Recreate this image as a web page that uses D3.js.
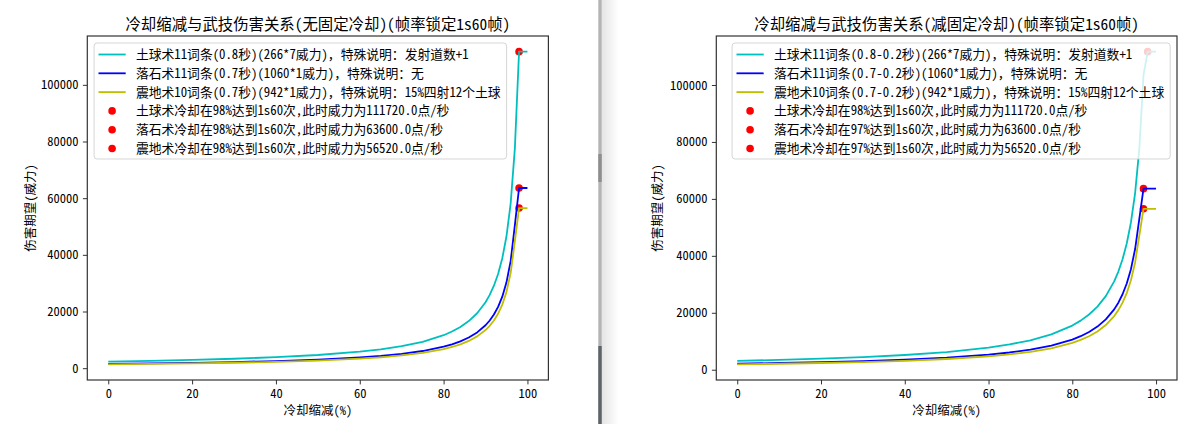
<!DOCTYPE html>
<html>
<head>
<meta charset="utf-8">
<script src="https://cdn.jsdelivr.net/npm/d3@7/dist/d3.min.js"></script>
<style>
body { margin: 0; background: #fff; }
text { font-family: "Noto Sans Mono CJK SC", "Noto Sans CJK SC", sans-serif; fill: #000; }
</style>
</head>
<body>
<script>
// 冷却缩减 (%) sample points
const cdr = [0, 10, 20, 30, 40, 50, 60, 65, 70, 75, 80, 82, 84, 86, 88, 90, 91, 92, 93, 94, 95, 96, 97, 98, 99, 100];

// left chart: 无固定冷却
const earthA = [2328, 2586, 2909, 3325, 3879, 4655, 5819, 6650, 7758, 9310, 11638, 12931, 14547, 16625, 19396, 23275, 25861, 29094, 33250, 38792, 46550, 58188, 77583, 111720, 111720, 111720];
const rockA = [1514, 1683, 1893, 2163, 2524, 3029, 3786, 4327, 5048, 6057, 7571, 8413, 9464, 10816, 12619, 15143, 16825, 18929, 21633, 25238, 30286, 37857, 50476, 63600, 63600, 63600];
const quakeA = [1346, 1495, 1682, 1922, 2243, 2691, 3364, 3845, 4486, 5383, 6729, 7476, 8411, 9612, 11214, 13457, 14952, 16821, 19224, 22429, 26914, 33643, 44857, 56520, 56520, 56520];

// right chart: 减固定冷却
const earthB = [3103, 3448, 3879, 4433, 5172, 6207, 7758, 8867, 10344, 12413, 15517, 17241, 19396, 22167, 25861, 31033, 34481, 38792, 44333, 51722, 62067, 77583, 103444, 111720, 111720, 111720];
const rockB = [2120, 2356, 2650, 3029, 3533, 4240, 5300, 6057, 7067, 8480, 10600, 11778, 13250, 15143, 17667, 21200, 23556, 26500, 30286, 35333, 42400, 53000, 63600, 63600, 63600, 63600];
const quakeB = [1884, 2093, 2355, 2691, 3140, 3768, 4710, 5383, 6280, 7536, 9420, 10467, 11775, 13457, 15700, 18840, 20933, 23550, 26914, 31400, 37680, 47100, 56520, 56520, 56520, 56520];

// points where 1s60 is reached
const capXA = [98, 98, 98];
const capXB = [98, 97, 97];
const capY = [111720, 63600, 56520];

const xTicks = [0, 20, 40, 60, 80, 100];
const yTicks = [0, 20000, 40000, 60000, 80000, 100000];

const namesA = [
    '土球术11词条(0.8秒)(266*7威力)，特殊说明：发射道数+1',
    '落石术11词条(0.7秒)(1060*1威力)，特殊说明：无',
    '震地术10词条(0.7秒)(942*1威力)，特殊说明：15%四射12个土球',
    '土球术冷却在98%达到1s60次,此时威力为111720.0点/秒',
    '落石术冷却在98%达到1s60次,此时威力为63600.0点/秒',
    '震地术冷却在98%达到1s60次,此时威力为56520.0点/秒'
];
const namesB = [
    '土球术11词条(0.8-0.2秒)(266*7威力)，特殊说明：发射道数+1',
    '落石术11词条(0.7-0.2秒)(1060*1威力)，特殊说明：无',
    '震地术10词条(0.7-0.2秒)(942*1威力)，特殊说明：15%四射12个土球',
    '土球术冷却在98%达到1s60次,此时威力为111720.0点/秒',
    '落石术冷却在97%达到1s60次,此时威力为63600.0点/秒',
    '震地术冷却在97%达到1s60次,此时威力为56520.0点/秒'
];

const colors = ['#00bfbf', '#0000ff', '#bfbf00'];
const dotColor = '#ff0000';

const width = 1198;
const height = 424;
const plotTop = 36;
const plotBottom = 380;
const fontSize = 12.5;
const legendFont = 12.8;
const fontFamily = '"Noto Sans Mono CJK SC", "Noto Sans CJK SC", sans-serif';

const svg = d3.select('body')
    .append('svg')
    .attr('width', width)
    .attr('height', height);

// window separator between the two screenshots
svg.append('defs').append('linearGradient')
    .attr('id', 'shade')
    .selectAll('stop')
    .data([['0%', '#e4e4e4'], ['100%', '#ffffff']])
    .enter()
    .append('stop')
    .attr('offset', (d) => d[0])
    .attr('stop-color', (d) => d[1]);
svg.append('rect').attr('x', 601.5).attr('y', 0).attr('width', 17).attr('height', height).attr('fill', 'url(#shade)');
svg.append('rect').attr('x', 598.3).attr('y', 0).attr('width', 3.4).attr('height', height).attr('fill', '#b4b4b4');
svg.append('rect').attr('x', 598.3).attr('y', 154).attr('width', 3.4).attr('height', 28).attr('fill', '#8e8e8e');
svg.append('rect').attr('x', 598.3).attr('y', 346).attr('width', 3.4).attr('height', 78).attr('fill', '#5c6468');

function drawChart(opt) {
    const all = opt.series.flat();
    const yPad = (d3.max(all) - d3.min(all)) * 0.05;
    const xPad = (d3.max(cdr) - d3.min(cdr)) * 0.05;

    const x = d3.scaleLinear()
        .domain([d3.min(cdr) - xPad, d3.max(cdr) + xPad])
        .range([opt.left, opt.right]);
    const y = d3.scaleLinear()
        .domain([d3.min(all) - yPad, d3.max(all) + yPad])
        .range([plotBottom, plotTop]);

    const g = svg.append('g');

    // scatter sits under the lines, like matplotlib zorder
    g.selectAll('circle.cap')
        .data(opt.capX)
        .enter()
        .append('circle')
        .attr('class', 'cap')
        .attr('cx', (d) => x(d))
        .attr('cy', (d, i) => y(capY[i]))
        .attr('r', 3.8)
        .attr('fill', dotColor);

    const line = d3.line()
        .x((d, i) => x(cdr[i]))
        .y((d) => y(d));

    g.selectAll('path.series')
        .data(opt.series)
        .enter()
        .append('path')
        .attr('class', 'series')
        .attr('d', line)
        .attr('fill', 'none')
        .attr('stroke', (d, i) => colors[i])
        .attr('stroke-width', 1.8)
        .attr('stroke-linejoin', 'round');

    // axes
    const xAxis = g.append('g')
        .attr('transform', 'translate(0,' + plotBottom + ')')
        .call(d3.axisBottom(x).tickValues(xTicks).tickSize(4.4).tickPadding(4.4));
    const yAxis = g.append('g')
        .attr('transform', 'translate(' + opt.left + ',0)')
        .call(d3.axisLeft(y).tickValues(yTicks).tickFormat(d3.format('d')).tickSize(4.4).tickPadding(4.4));
    [xAxis, yAxis].forEach((a) => {
        a.select('.domain').remove();
        a.selectAll('line').attr('stroke', '#333').attr('stroke-width', 1);
        a.selectAll('text')
            .style('font-family', fontFamily)
            .style('font-size', fontSize + 'px')
            .attr('fill', '#000');
    });

    g.append('rect')
        .attr('x', opt.left)
        .attr('y', plotTop)
        .attr('width', opt.right - opt.left)
        .attr('height', plotBottom - plotTop)
        .attr('fill', 'none')
        .attr('stroke', '#333')
        .attr('stroke-width', 1.2);

    const cx = (opt.left + opt.right) / 2;
    g.append('text')
        .attr('x', cx)
        .attr('y', 29.5)
        .attr('text-anchor', 'middle')
        .style('font-size', '15.4px')
        .text(opt.title);
    g.append('text')
        .attr('x', cx)
        .attr('y', 415)
        .attr('text-anchor', 'middle')
        .style('font-size', fontSize + 'px')
        .text('冷却缩减(%)');
    g.append('text')
        .attr('transform', 'translate(' + opt.yLabelX + ',' + (plotTop + plotBottom) / 2 + ') rotate(-90)')
        .attr('text-anchor', 'middle')
        .style('font-size', fontSize + 'px')
        .text('伤害期望(威力)');

    // legend
    const leg = g.append('g');
    const rowY = (i) => 11.5 + i * 18.8;
    const texts = leg.selectAll('text')
        .data(opt.names)
        .enter()
        .append('text')
        .attr('x', 41.8)
        .attr('y', (d, i) => rowY(i))
        .attr('dy', '0.35em')
        .style('font-size', legendFont + 'px')
        .text((d) => d);
    let maxW = 0;
    texts.each(function () {
        maxW = Math.max(maxW, this.getComputedTextLength());
    });
    const boxW = 41.8 + maxW + 6;
    leg.insert('rect', ':first-child')
        .attr('x', 0)
        .attr('y', 0)
        .attr('width', boxW)
        .attr('height', 116)
        .attr('rx', 3)
        .attr('fill', '#fff')
        .attr('fill-opacity', 0.8)
        .attr('stroke', '#cccccc')
        .attr('stroke-opacity', 0.8);
    leg.selectAll('line.handle')
        .data(colors)
        .enter()
        .append('line')
        .attr('class', 'handle')
        .attr('x1', 4.4)
        .attr('x2', 31.6)
        .attr('y1', (d, i) => rowY(i))
        .attr('y2', (d, i) => rowY(i))
        .attr('stroke', (d) => d)
        .attr('stroke-width', 1.8);
    leg.selectAll('circle.handle')
        .data(opt.capX)
        .enter()
        .append('circle')
        .attr('class', 'handle')
        .attr('cx', 18)
        .attr('cy', (d, i) => rowY(i + 3))
        .attr('r', 3.8)
        .attr('fill', dotColor);

    const legX = opt.legendSide === 'left' ? opt.left + 6.8 : opt.right - 6.8 - boxW;
    leg.attr('transform', 'translate(' + legX + ',43)');
}

drawChart({
    title: '冷却缩减与武技伤害关系(无固定冷却)(帧率锁定1s60帧)',
    left: 87.3,
    right: 548.4,
    yLabelX: 34.5,
    series: [earthA, rockA, quakeA],
    capX: capXA,
    names: namesA,
    legendSide: 'left'
});

drawChart({
    title: '冷却缩减与武技伤害关系(减固定冷却)(帧率锁定1s60帧)',
    left: 716.3,
    right: 1177,
    yLabelX: 661.5,
    series: [earthB, rockB, quakeB],
    capX: capXB,
    names: namesB,
    legendSide: 'right'
});
</script>
</body>
</html>
